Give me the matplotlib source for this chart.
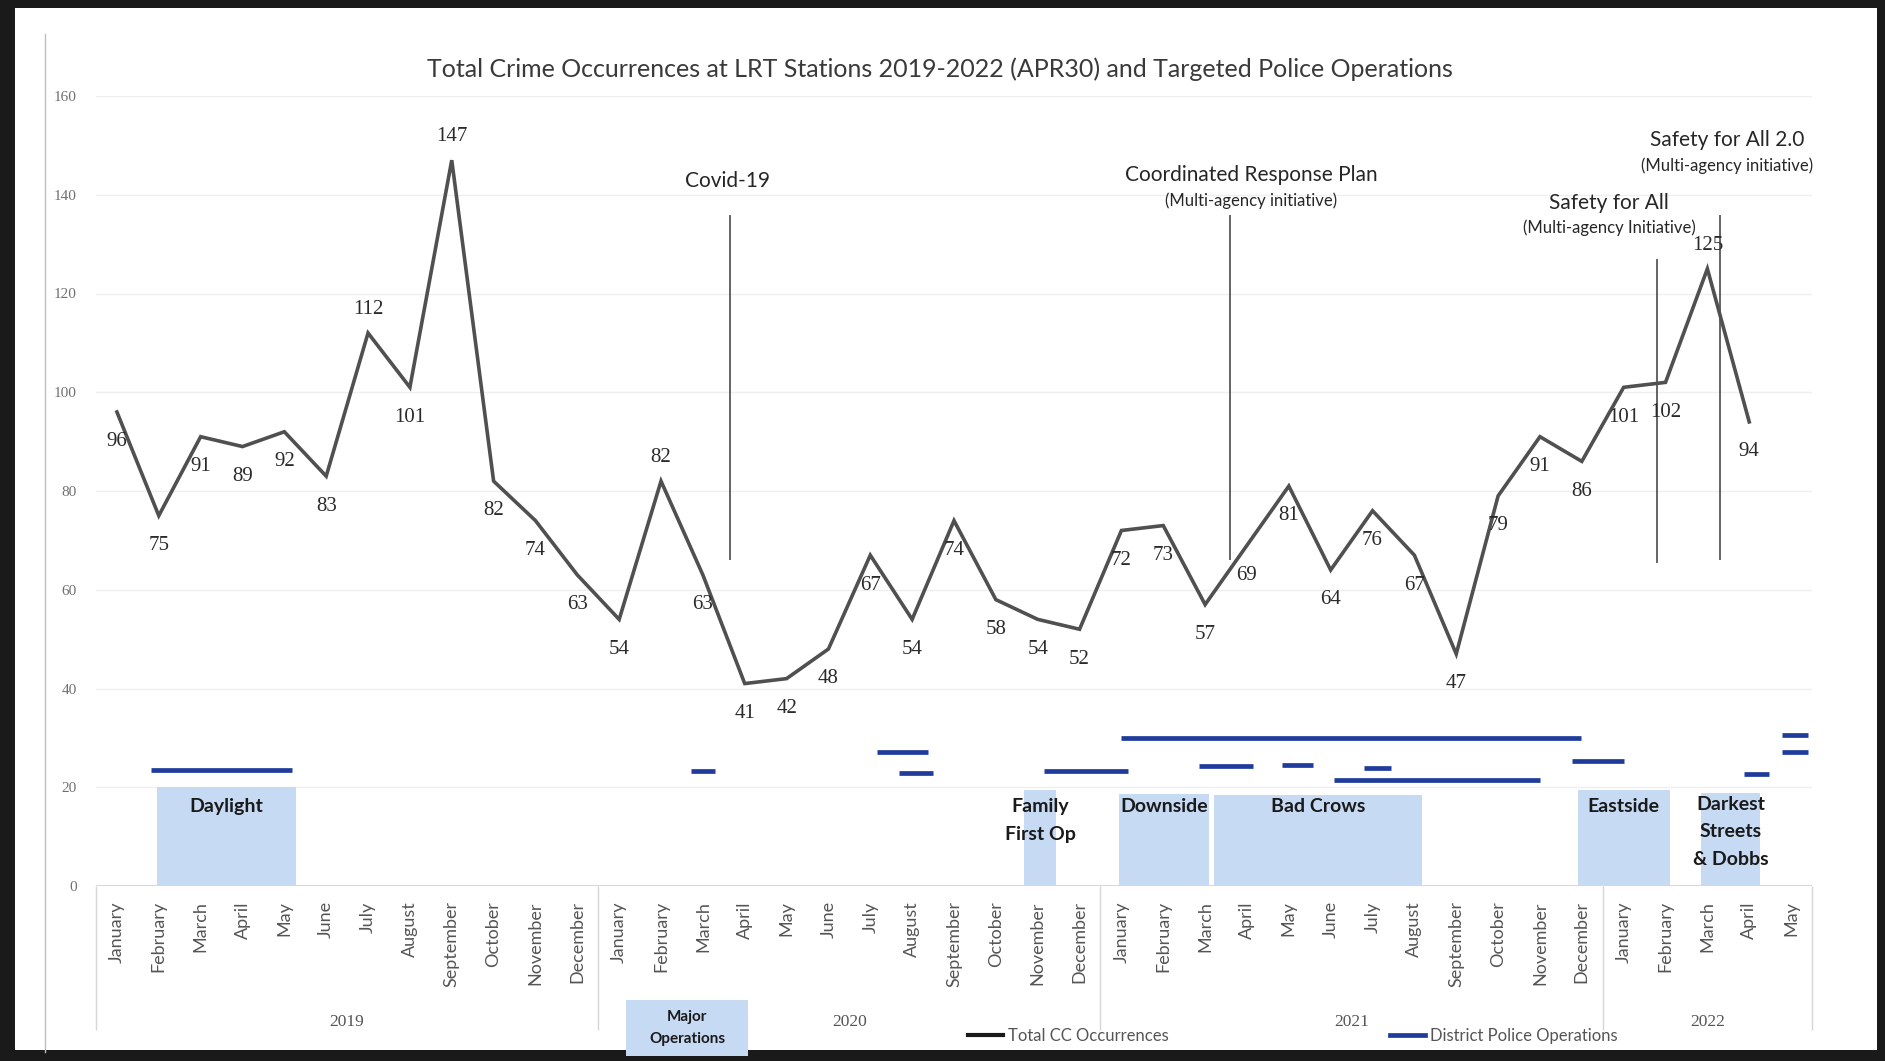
import matplotlib
matplotlib.use("Agg")
import matplotlib.pyplot as plt
from matplotlib.patches import Rectangle
from matplotlib.lines import Line2D

# ---- data ----
month_names = ['January', 'February', 'March', 'April', 'May', 'June', 'July',
               'August', 'September', 'October', 'November', 'December']
months = month_names * 3 + month_names[:5]
years = ['2019', '2020', '2021', '2022']
year_first_idx = [0, 12, 24, 36]

occurrences = [96, 75, 91, 89, 92, 83, 112, 101, 147, 82, 74, 63,
               54, 82, 63, 41, 42, 48, 67, 54, 74, 58, 54, 52,
               72, 73, 57, 69, 81, 64, 76, 67, 47, 79, 91, 86,
               101, 102, 125, 94]
above_idx = [6, 8, 13, 38]          # labels that sit above the point

# district police operations: (start, end, level)
ops_start = [0.82, 13.71, 18.16, 18.68, 22.15, 24.0, 25.85, 27.84, 29.80, 29.08, 34.77, 38.88, 39.78, 39.78]
ops_end   = [4.18, 14.30, 19.39, 19.50, 24.16, 34.97, 27.14, 28.58, 30.45, 34.00, 36.00, 39.48, 40.40, 40.40]
ops_level = [23.4, 23.2, 27.2, 22.9, 23.3, 30.0, 24.4, 24.5, 24.0, 21.5, 25.3, 22.7, 30.6, 27.1]

# targeted operations (shaded)
op_names = ['Daylight', 'Family\nFirst Op', 'Downside', 'Bad Crows', 'Eastside', 'Darkest\nStreets\n& Dobbs']
op_x0 = [0.95, 21.68, 23.95, 26.22, 34.90, 37.85]
op_x1 = [4.28, 22.44, 26.10, 31.18, 37.10, 39.25]
op_top = [20.0, 19.5, 18.7, 18.5, 19.5, 18.8]

# initiatives (vertical markers)
init_names = ['Covid-19', 'Coordinated Response Plan', 'Safety for All', 'Safety for All 2.0']
init_subs = [None, '(Multi-agency initiative)', '(Multi-agency Initiative)', '(Multi-agency initiative)']
init_x = [14.65, 26.6, 36.8, 38.3]
init_y0 = [66, 66, 65.5, 66]
init_y1 = [136, 136, 127, 136]
init_label_x = [14.6, 27.1, 35.65, 38.47]
init_label_y = [142.7, 143.9, 138.4, 151.0]

# ---- figure ----
W, H = 1885, 1061
fig = plt.figure(figsize=(W / 100, H / 100), dpi=100, facecolor='#1a1a1a')
fig.patches.append(Rectangle((15 / W, 1 - 1050 / H), (1877 - 15) / W, (1050 - 8) / H,
                             transform=fig.transFigure, facecolor='white', edgecolor='none', zorder=-5))
fig.add_artist(Line2D([45 / W, 45 / W], [1 - 34 / H, 1 - 1052 / H], color='#bdbdbd', lw=1))

ax = fig.add_axes([96 / W, 1 - 886 / H, (1812 - 96) / W, (886 - 96) / H])
ax.set_facecolor('white')
ax.set_xlim(-0.5, 40.5)
ax.set_ylim(0, 160)
for s in ax.spines.values():
    s.set_visible(False)

SANS = 'Lato'
SERIF = 'Liberation Serif'
LINE = '#505050'
BLUE = '#1f3c9c'
SHADE = '#c6daf3'

# gridlines
for yv in range(20, 161, 20):
    ax.axhline(yv, color='#efefef', lw=1, zorder=0)
ax.axhline(0, color='#d0d0d0', lw=1.2, zorder=1)

# y ticks
ax.set_yticks(range(0, 161, 20))
ax.set_yticklabels([str(v) for v in range(0, 161, 20)], fontfamily=SERIF, fontsize=11, color='#707070')
ax.tick_params(axis='y', length=0, pad=14)

# x ticks
xs = list(range(len(months)))
ax.set_xticks(xs)
ax.set_xticklabels(months, rotation=90, va='top', ha='center', fontfamily=SANS, fontsize=13, color='#555555')
ax.tick_params(axis='x', length=0, pad=11)

# year groups
ax.vlines([-0.5, 11.5, 23.5, 35.5, 40.5], -29.2, 0, color='#d6d6d6', lw=1, clip_on=False)
bounds = year_first_idx + [len(months)]
for i, yr in enumerate(years):
    cx = (bounds[i] + bounds[i + 1] - 1) / 2
    ax.text(cx, -27.5, yr, ha='center', va='center', fontfamily=SERIF, fontsize=12.5,
            color='#555555', clip_on=False)

# shaded operations
for name, x0, x1, top in zip(op_names, op_x0, op_x1, op_top):
    ax.add_patch(Rectangle((x0, 0), x1 - x0, top, facecolor=SHADE, edgecolor='none', zorder=1))
    ty = 18.3 if name.count('\n') == 2 else 17.8
    ax.text((x0 + x1) / 2, ty, name, ha='center', va='top', fontfamily=SANS, fontweight='bold',
            fontsize=14, color='#1a1a1a', linespacing=1.75, zorder=3)

# major operations box under the axis
ax.add_patch(Rectangle((12.16, -34.4), 15.08 - 12.16, 11.3, facecolor=SHADE, edgecolor='none',
                       clip_on=False, zorder=1))
ax.text(13.62, -28.8, 'Major\nOperations', ha='center', va='center', fontfamily=SANS, fontweight='bold',
        fontsize=11, color='#1a1a1a', linespacing=1.75, clip_on=False, zorder=3)

# police operations
ax.hlines(ops_level, ops_start, ops_end, color=BLUE, lw=3.4, zorder=2)

# initiatives
ax.vlines(init_x, init_y0, init_y1, color='#3a3a3a', lw=1.1, zorder=2)
for name, sub, lx, ly in zip(init_names, init_subs, init_label_x, init_label_y):
    ax.text(lx, ly, name, ha='center', va='center', fontfamily=SANS, fontsize=15, color='#262626')
    if sub:
        ax.text(lx, ly - 5.1, sub, ha='center', va='center', fontfamily=SANS, fontsize=12, color='#262626')

# total occurrences
ax.plot(xs[:len(occurrences)], occurrences, color=LINE, lw=2.6, zorder=4, solid_joinstyle='miter')
for i, v in enumerate(occurrences):
    dy = 17 if i in above_idx else -21.5
    ax.annotate(str(v), (i, v), xytext=(0, dy), textcoords='offset points', ha='center', va='center',
                fontfamily=SERIF, fontsize=15, color='#2a2a2a', zorder=5)

# title
fig.text(940 / W, 1 - 69 / H, 'Total Crime Occurrences at LRT Stations 2019-2022 (APR30) and Targeted Police Operations',
         ha='center', va='center', fontfamily=SANS, fontsize=18, color='#3a3a3a')

# legend
handles = [Line2D([], [], color='#1a1a1a', lw=3), Line2D([], [], color=BLUE, lw=3.4)]
leg = ax.legend(handles, ['Total CC Occurrences', 'District Police Operations'], ncol=2,
                loc='center left', bbox_to_anchor=(968 / W, 1 - 1036 / H), bbox_transform=fig.transFigure,
                frameon=False, borderpad=0, borderaxespad=0, handlelength=2.1, handletextpad=0.3,
                columnspacing=13.3, prop={'family': SANS, 'size': 12})
for t in leg.get_texts():
    t.set_color('#555555')

fig.savefig('out.png', dpi=100, facecolor=fig.get_facecolor())
